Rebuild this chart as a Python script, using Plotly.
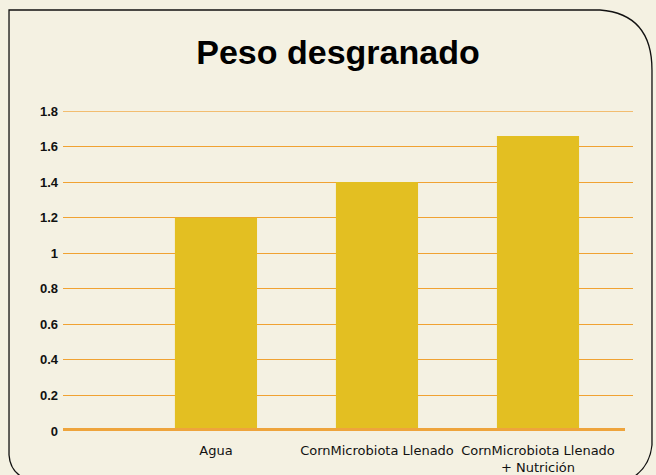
import plotly.graph_objects as go

categories = ["Agua", "CornMicrobiota Llenado", "CornMicrobiota Llenado<br>+ Nutrición"]
values = [1.2, 1.4, 1.66]
tick_vals = [0, 0.2, 0.4, 0.6, 0.8, 1, 1.2, 1.4, 1.6, 1.8]
tick_text = ["0", "0.2", "0.4", "0.6", "0.8", "1", "1.2", "1.4", "1.6", "1.8"]

W, H = 656, 475
L, R, T, B = 63, 23, 111, 44
PW, PH = W - L - R, H - T - B

def px(x, y):
    return (x - L) / PW, (H - B - y) / PH

def pt(x, y):
    a, b = px(x, y)
    return f"{a:.4f},{b:.4f}"

fig = go.Figure()
fig.add_trace(go.Bar(
    x=[0, 1, 2], y=values, width=0.51,
    marker=dict(color="#e3bf22", line=dict(width=0)),
    hoverinfo="skip",
))

border = ("M " + pt(9, 455) + " Q " + pt(10, 470) + " " + pt(22, 477) +
          " M " + pt(9, 455) + " L " + pt(9, 10) + " L " + pt(600, 10) +
          " Q " + pt(652, 14) + " " + pt(652, 70) + " L " + pt(652, 445) +
          " Q " + pt(650, 465) + " " + pt(635, 476))

fig.update_layout(
    width=W, height=H,
    margin=dict(l=L, r=R, t=T, b=B, autoexpand=False),
    paper_bgcolor="#f4f1e2",
    plot_bgcolor="rgba(0,0,0,0)",
    showlegend=False,
    title=dict(text="Peso desgranado", x=338 / W, xanchor="center",
               y=1 - 52 / H, yanchor="middle",
               font=dict(family="Liberation Sans, Arial, sans-serif", size=34,
                         color="#000000", weight="bold")),
    xaxis=dict(range=[-0.95, 2.59], tickvals=[0, 1, 2], ticktext=categories,
               showgrid=False, zeroline=False, showline=False, ticks="",
               tickangle=0, ticklabelstandoff=10,
               tickfont=dict(family="DejaVu Sans, sans-serif", size=13, color="#111111")),
    yaxis=dict(range=[0, 1.8], tickvals=tick_vals, ticktext=tick_text,
               showgrid=True, gridcolor="#f0a232", gridwidth=1.3,
               zeroline=False, showline=False, ticks="", ticklabelstandoff=4,
               tickfont=dict(family="Liberation Sans, Arial, sans-serif", size=13,
                             color="#111111", weight="bold")),
    shapes=[
        dict(type="line", xref="paper", yref="y", x0=0, x1=1, y0=tick_vals[-1], y1=tick_vals[-1],
             line=dict(color="#f2bd70", width=2), layer="below"),
        dict(type="line", xref="paper", yref="y", x0=0, x1=(625 - L) / PW, y0=0, y1=0,
             line=dict(color="#eea43c", width=6), layer="above"),
        dict(type="path", xref="paper", yref="paper", path=border,
             line=dict(color="#111111", width=1.3), layer="above"),
    ],
)

fig.write_html("out.html", config={"displayModeBar": False},
               post_script="document.body.style.margin='0';document.body.style.padding='0';")
